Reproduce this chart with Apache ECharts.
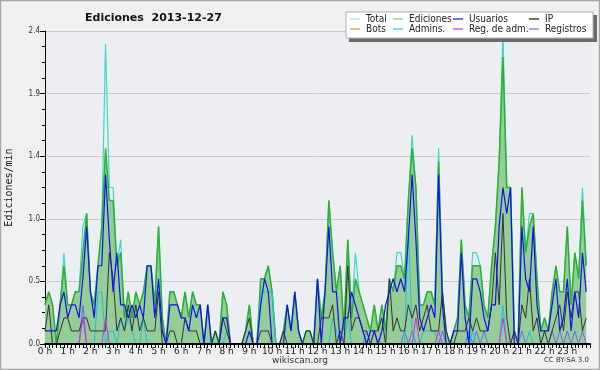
<!DOCTYPE html>
<html><head><meta charset="utf-8">
<script src="https://cdn.jsdelivr.net/npm/echarts@6/dist/echarts.min.js"></script>
<style>html,body{margin:0;padding:0;background:#f0f0f0}#c{width:600px;height:370px}</style>
</head><body><div id="c"></div>
<script>
// 10-minute bins, 0 h .. 23:50
const hourLabels = ['0 h','1 h','2 h','3 h','4 h','5 h','6 h','7 h','8 h','9 h','10 h','11 h','12 h','13 h','14 h','15 h','16 h','17 h','18 h','19 h','20 h','21 h','22 h','23 h'];

const total = [0.3,0.4,0.3,0,0.3,0.7,0.3,0.3,0.4,0.4,
0.9,1.0,0.4,0.3,0.6,0.9,2.3,1.2,1.2,0.6,
0.8,0.2,0.4,0.2,0.4,0.3,0.4,0.6,0.6,0.3,
0.9,0.2,0,0.4,0.4,0.3,0.2,0.4,0.2,0.4,
0.3,0.3,0,0.3,0,0.1,0,0.4,0.3,0,
0,0,0,0.1,0.3,0,0,0.5,0.5,0.6,
0.4,0,0,0.1,0.3,0.1,0.4,0.1,0,0.1,
0.1,0,0.5,0.2,0.4,1.1,0.7,0.4,0.6,0.1,
0.8,0.2,0.7,0.4,0.3,0.2,0.1,0.3,0.1,0.3,
0.1,0.5,0.4,0.7,0.7,0.5,1.1,1.6,1.2,0.3,
0.3,0.4,0.4,0.3,1.5,0.4,0.1,0,0.1,0.2,
0.8,0.3,0.2,0.7,0.7,0.6,0.3,0.2,0.6,0.9,
1.4,2.4,1.2,1.2,0.1,0,1.2,0.7,1.0,1.0,
0.5,0.1,0.2,0.1,0.4,0.6,0.4,0.4,0.9,0.3,
0.7,0.5,1.2,0.6];

const ediciones = [0.3,0.4,0.3,0,0.3,0.6,0.3,0.3,0.4,0.4,
0.7,1.0,0.4,0.3,0.6,0.9,1.5,1.1,1.1,0.6,
0.7,0.2,0.4,0.2,0.4,0.3,0.4,0.6,0.6,0.3,
0.9,0.2,0,0.4,0.4,0.3,0.2,0.4,0.2,0.4,
0.3,0.3,0,0.3,0,0.1,0,0.4,0.3,0,
0,0,0,0.1,0.3,0,0,0.5,0.5,0.6,
0.4,0,0,0.1,0.3,0.1,0.4,0.1,0,0.1,
0.1,0,0.5,0.2,0.4,1.1,0.7,0.4,0.6,0.1,
0.8,0.2,0.5,0.4,0.3,0.2,0.1,0.3,0.1,0.3,
0.1,0.5,0.4,0.6,0.6,0.5,1.1,1.5,1.2,0.3,
0.3,0.4,0.4,0.3,1.4,0.4,0.1,0,0.1,0.2,
0.8,0.3,0.2,0.6,0.6,0.6,0.3,0.2,0.6,0.9,
1.4,2.2,1.2,1.2,0.1,0,1.2,0.7,0.9,1.0,
0.5,0.1,0.2,0.1,0.4,0.6,0.4,0.4,0.9,0.3,
0.7,0.5,1.1,0.6];

const usuarios = [0.1,0.1,0.1,0.1,0.3,0.4,0.2,0.3,0.3,0.2,
0.5,0.9,0.4,0.2,0.6,0.6,1.3,0.8,0.4,0.7,
0.3,0.3,0.2,0.3,0.2,0.3,0.2,0.6,0.6,0.2,
0.5,0.1,0,0.3,0.3,0.3,0.2,0.2,0.1,0.3,
0.2,0.3,0,0.3,0,0,0,0.2,0.2,0,
0,0,0,0,0.1,0,0,0.3,0.5,0.4,
0,0,0,0,0.3,0.1,0.4,0.1,0,0,
0,0,0.5,0,0.4,0.9,0.4,0.4,0,0.2,
0.2,0.4,0.3,0.2,0.1,0,0.1,0.1,0,0.1,
0.3,0.4,0.5,0.4,0.5,0.4,0.8,1.3,0.8,0.2,
0.1,0.2,0.3,0.2,1.3,0.3,0,0,0.1,0.1,
0.7,0.2,0,0.5,0.5,0.4,0.2,0.1,0.3,0.3,
0.9,1.2,1.0,1.2,0,0,0.9,0.5,0.4,0.9,
0.3,0.1,0.1,0.1,0.3,0.5,0.1,0.2,0.5,0.1,
0.4,0.2,0.7,0.4];

const ip = [0.1,0.3,0,0,0.1,0.2,0.2,0.1,0.1,0.1,
0.2,0.2,0.1,0.1,0.1,0.1,0.1,0.7,0.5,0.1,
0.2,0.1,0.3,0.1,0.3,0.1,0.2,0.1,0.1,0.1,
0.4,0,0,0.1,0.1,0,0,0.2,0.1,0.1,
0.1,0,0,0,0,0.1,0,0.2,0.1,0,
0,0,0,0.1,0.2,0,0,0.1,0.1,0.1,
0,0,0,0.1,0,0,0,0,0,0.1,
0.1,0,0,0.2,0.2,0.2,0.3,0,0.1,0,
0.6,0.1,0.2,0.2,0.1,0.1,0,0.1,0.1,0.2,
0,0.5,0.1,0.2,0.1,0.1,0.3,0.2,0.3,0.1,
0.2,0.3,0.1,0.1,0.1,0.4,0.1,0,0,0.1,
0.1,0.1,0.2,0.1,0.2,0.1,0.1,0.1,0.3,0.7,
0.3,1.0,0.2,0,0.1,0,0.3,0.2,0.5,0.1,
0.2,0,0.1,0,0.1,0.2,0.3,0.1,0.4,0.2,
0.4,0.4,0.1,0.2];

const bots = [0,0,0,0,0,0,0,0,0,0, 0,0,0,0,0,0,0,0,0,0,
0,0,0,0,0,0,0,0,0,0, 0,0,0,0,0,0,0,0,0,0,
0,0,0,0,0,0,0,0,0,0, 0,0,0,0,0,0,0,0,0,0,
0,0,0,0,0,0,0,0,0,0, 0,0,0,0,0,0,0,0,0,0,
0,0,0,0,0,0,0,0,0,0, 0,0,0,0,0,0,0,0,0,0,
0,0,0,0,0,0,0,0,0,0, 0,0,0,0,0,0,0,0,0,0,
0,0,0,0,0,0,0,0,0,0, 0,0,0,0,0,0,0,0,0,0,
0,0,0,0];

const admins = [0,0,0,0,0,0,0,0,0,0,
0,0,0,0,0.4,0.4,0,0.1,0.1,0,
0.2,0.1,0.2,0.1,0,0,0.2,0,0,0,
0,0,0,0,0,0,0,0,0,0,
0,0,0,0,0,0,0,0,0.1,0,
0,0,0,0,0,0,0,0.4,0.4,0.4,
0.4,0,0,0,0,0,0,0,0,0,
0,0,0,0,0,0,0.2,0.1,0,0,
0.2,0,0,0,0,0,0,0,0,0,
0,0,0,0,0,0,0.9,0.1,0,0,
0.1,0.1,0.1,0.1,0,0,0,0,0,0,
0,0,0,0.1,0,0,0,0,0,0,
0,0.3,0,0,0,0,0,0,0.1,0,
0,0,0,0,0,0,0,0,0,0,
0,0,0,0];

const regAdm = [0,0,0,0,0,0,0,0,0,0,
0.2,0,0,0,0,0,0.2,0,0,0,
0,0,0,0,0,0,0,0,0,0, 0,0,0,0,0,0,0,0,0,0,
0,0,0,0,0,0,0,0,0,0, 0,0,0,0,0,0,0,0,0,0,
0,0,0,0,0,0,0,0,0,0, 0,0,0,0,0,0,0,0,0,0,
0,0,0,0,0,0,0,0,0,0,
0,0,0,0,0,0,0,0,0.2,0,
0,0,0,0,0.1,0,0,0,0,0,
0,0,0,0,0,0,0,0,0,0,
0,0.2,0,0,0,0,0,0,0,0,
0,0,0,0,0,0,0,0,0,0,
0,0,0,0];

const registros = [0,0,0,0,0,0,0,0,0,0,
0.3,0,0,0,0,0,0,0,0,0,
0,0,0,0,0,0,0,0,0,0, 0,0,0,0,0,0,0,0,0,0,
0,0,0,0,0,0,0,0,0,0, 0,0,0,0,0,0,0,0,0,0,
0,0,0,0,0,0,0,0,0,0, 0,0,0,0,0,0,0,0,0,0,
0,0,0,0,0,0.1,0,0.1,0,0,
0,0,0,0,0,0.1,0,0.1,0,0,
0,0,0,0,0,0.1,0,0,0,0,
0,0,0.1,0,0.1,0,0.1,0,0,0,
0,0,0,0,0.1,0,0.1,0,0,0,
0,0,0,0,0.1,0,0.1,0,0.1,0,
0.1,0,0.1,0];

const chart = echarts.init(document.getElementById('c'), null, {renderer: 'canvas'});
const pts = a => a.map((v, i) => [i, v]);
const F = '"DejaVu Sans", sans-serif';
const FC = '"DejaVu Sans Condensed", "DejaVu Sans", sans-serif';

function lineSeries(name, data, color, width, extra) {
  return Object.assign({
    name, type: 'line', data: pts(data), symbol: 'none', showSymbol: false,
    lineStyle: {color, width}, itemStyle: {color}, animation: false, silent: true
  }, extra || {});
}

const legendCols = [
  {left: 350, items: [['Total', '#b4eae4'], ['Bots', '#f5a84a']]},
  {left: 393, items: [['Ediciones', '#98d898'], ['Admins.', '#5cd0e4']]},
  {left: 453, items: [['Usuarios', '#4848e0'], ['Reg. de adm.', '#d058e4']]},
  {left: 529, items: [['IP', '#404040'], ['Registros', '#8a8af0']]}
];

chart.setOption({
  backgroundColor: '#f0f0f0',
  animation: false,
  title: {
    text: 'Ediciones  2013-12-27', left: 80, top: 8,
    textStyle: {fontFamily: F, fontSize: 11, fontWeight: 'bold', color: '#111'}
  },
  legend: legendCols.map(c => ({
    orient: 'vertical', left: c.left, top: 14, padding: 0, itemGap: 0,
    itemWidth: 10, itemHeight: 1.5, icon: 'rect', z: 120, selectedMode: false,
    textStyle: {fontFamily: FC, fontSize: 10, color: '#222', lineHeight: 10, padding: [0, 0, 0, 1]},
    data: c.items.map(([n, col]) => ({name: n, itemStyle: {color: col}}))
  })),
  grid: {left: 45, right: 10, top: 31, bottom: 26, show: true, backgroundColor: '#eceef1', borderWidth: 0,
    containLabel: false, outerBoundsMode: 'none'},
  xAxis: {
    type: 'value', min: 0, max: 144, interval: 6, z: 10,
    axisLine: {show: true, lineStyle: {color: '#000', width: 2}},
    axisTick: {show: true, length: 4, lineStyle: {color: '#000'}},
    minorTick: {show: true, splitNumber: 6, length: 4, lineStyle: {color: '#000'}},
    splitLine: {show: false},
    axisLabel: {
      margin: 3, fontFamily: F, fontSize: 9, color: '#222',
      formatter: v => (v % 6 === 0 && v / 6 < 24) ? hourLabels[v / 6] : ''
    }
  },
  yAxis: {
    type: 'value', min: 0, max: 2.4, interval: 0.48,
    name: 'Ediciones/min', nameLocation: 'middle', nameGap: 31, nameRotate: 90,
    nameTextStyle: {fontFamily: '"DejaVu Sans Mono", monospace', fontSize: 10, color: '#111'},
    axisLine: {show: true, lineStyle: {color: '#000', width: 1}},
    axisTick: {show: true, length: 5, lineStyle: {color: '#000'}},
    minorTick: {show: true, splitNumber: 4, length: 3, lineStyle: {color: '#000'}},
    splitLine: {show: true, lineStyle: {color: '#c9cbcd', width: 1}},
    axisLabel: {margin: 5, fontFamily: FC, fontSize: 8, color: '#333', formatter: v => v.toFixed(1)}
  },
  series: [
    lineSeries('Bots', bots, '#f0a040', 1),
    lineSeries('Total', total, '#3ed8c8', 1.2),
    lineSeries('Ediciones', ediciones, '#30b030', 1.5, {areaStyle: {color: '#96cc96', opacity: 1}}),
    lineSeries('Registros', registros, '#6a6af8', 1),
    lineSeries('Admins.', admins, '#1cc0e0', 1),
    lineSeries('IP', ip, '#333333', 1),
    lineSeries('Usuarios', usuarios, '#1010f0', 1.2),
    lineSeries('Reg. de adm.', regAdm, '#cc30ee', 1)
  ],
  graphic: [
    {type: 'rect', shape: {x: 0.5, y: 0.5, width: 599, height: 369}, style: {fill: 'none', stroke: '#a8a8a8', lineWidth: 1.5}, z: 200, silent: true},
    {type: 'rect', shape: {x: 349, y: 15, width: 248, height: 27}, style: {fill: '#6a6a6a'}, z: 100, silent: true},
    {type: 'rect', shape: {x: 346, y: 12, width: 247, height: 26}, style: {fill: '#ffffff', stroke: '#b0b0b0', lineWidth: 1}, z: 101, silent: true},
    {type: 'text', left: 'center', top: 356, style: {text: 'wikiscan.org', font: '9px "DejaVu Sans", sans-serif', fill: '#333'}, z: 100, silent: true},
    {type: 'text', right: 11, top: 357, style: {text: 'CC BY-SA 3.0', font: '7px "DejaVu Sans", sans-serif', fill: '#333'}, z: 100, silent: true}
  ]
});
</script></body></html>
